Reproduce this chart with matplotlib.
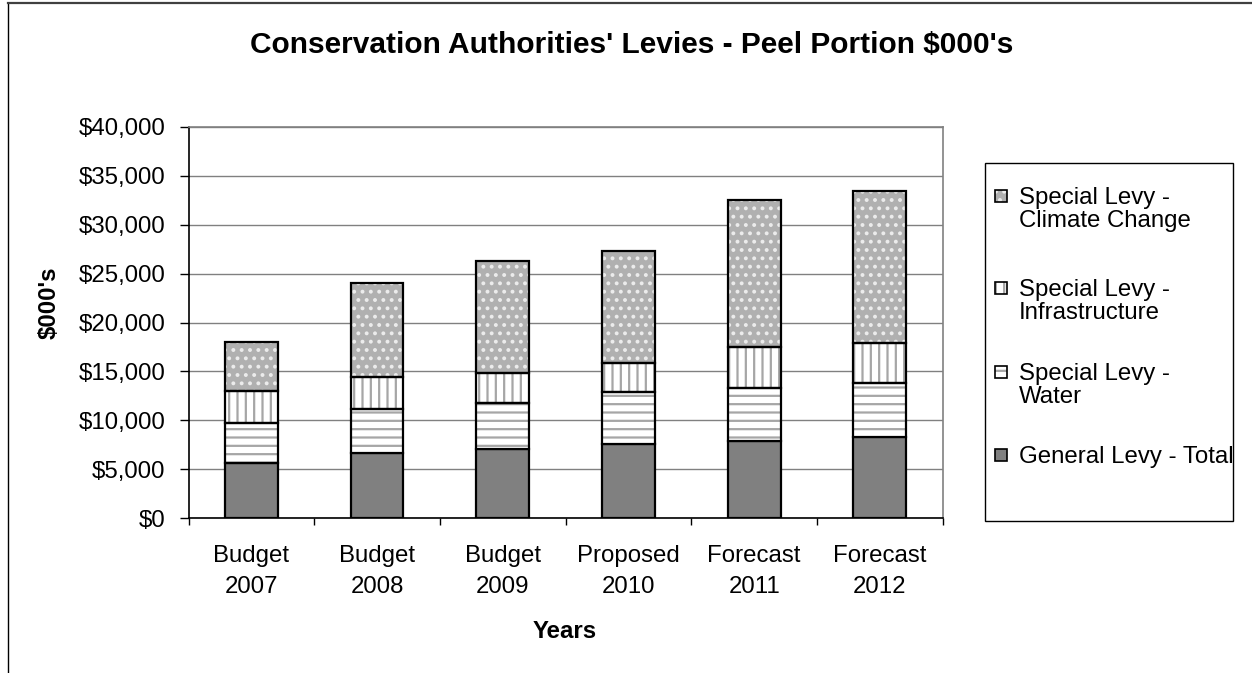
import matplotlib
matplotlib.use("Agg")
import matplotlib.pyplot as plt
from matplotlib.patches import Rectangle
from matplotlib.lines import Line2D
from matplotlib.ticker import FuncFormatter, FixedLocator
import numpy as np

plt.rcParams['font.family'] = ['Liberation Sans', 'DejaVu Sans']
plt.rcParams['hatch.linewidth'] = 1.6

categories = ["Budget\n2007", "Budget\n2008", "Budget\n2009", "Proposed\n2010", "Forecast\n2011", "Forecast\n2012"]
general_levy = [5680, 6700, 7110, 7560, 7930, 8330]
water_levy = [4020, 4500, 4700, 5310, 5350, 5520]
infrastructure_levy = [3300, 3260, 3060, 3020, 4250, 4090]
climate_levy = [4980, 9610, 11440, 11440, 14950, 15520]

series_labels = ["General Levy - Total", "Special Levy -\nWater",
                 "Special Levy -\nInfrastructure", "Special Levy -\nClimate Change"]
series_values = [general_levy, water_levy, infrastructure_levy, climate_levy]
styles = [
    dict(face="#808080", hatch=None, hcol=None),
    dict(face="white", hatch="--", hcol="#a6a6a6"),
    dict(face="white", hatch="||", hcol="#a6a6a6"),
    dict(face="#b0b0b0", hatch="..", hcol="#ececec"),
]

FS = 17.3
W, H = 1252, 673
fig = plt.figure(figsize=(W / 100, H / 100), dpi=100)
ax = fig.add_axes([188.5 / W, 1 - 518.3 / H, (942.7 - 188.5) / W, (518.3 - 126.7) / H])

x = np.arange(len(categories))
bw = 0.42
bottom = np.zeros(len(categories))
for vals, st in zip(series_values, styles):
    vals = np.array(vals, dtype=float)
    if st["hatch"]:
        ax.bar(x, vals, bw, bottom=bottom, color=st["face"], edgecolor=st["hcol"],
               hatch=st["hatch"], linewidth=0, zorder=3)
        ax.bar(x, vals, bw, bottom=bottom, fill=False, edgecolor="black", linewidth=1.6, zorder=4)
    else:
        ax.bar(x, vals, bw, bottom=bottom, color=st["face"], edgecolor="black", linewidth=1.6, zorder=3)
    bottom += vals

ax.set_xlim(-0.5, len(categories) - 0.5)
ax.set_ylim(0, 40000)
ax.set_yticks(np.arange(0, 40001, 5000))
ax.yaxis.set_major_formatter(FuncFormatter(lambda v, p: "${:,.0f}".format(v)))
ax.grid(axis="y", color="#808080", linewidth=1.0, zorder=0)
ax.set_axisbelow(True)

ax.set_xticks(x)
ax.set_xticklabels(categories, linespacing=1.55)
ax.xaxis.set_minor_locator(FixedLocator(np.arange(-0.5, len(categories), 1.0)))
ax.tick_params(axis="x", which="major", length=0, pad=19, labelsize=FS)
ax.tick_params(axis="x", which="minor", length=5, width=1, color="black", direction="out")
ax.tick_params(axis="y", which="major", length=6.5, width=1, color="black", pad=10, labelsize=FS)

for s in ["top", "right"]:
    ax.spines[s].set_color("#808080")
    ax.spines[s].set_linewidth(1.2)
for s in ["left", "bottom"]:
    ax.spines[s].set_color("black")
    ax.spines[s].set_linewidth(1.2)

fig.text(632 / W, 1 - 45 / H, "Conservation Authorities' Levies - Peel Portion $000's",
         ha="center", va="center", fontsize=21.5, fontweight="bold")
fig.text(565 / W, 1 - 632 / H, "Years", ha="center", va="center", fontsize=FS, fontweight="bold")
fig.text(49 / W, 1 - 303 / H, "$000's", ha="center", va="center", rotation=90,
         fontsize=FS, fontweight="bold")

# legend frame
fig.patches.append(Rectangle((985 / W, 1 - 521 / H), (1233 - 985) / W, (521 - 163) / H,
                             transform=fig.transFigure, fill=False, edgecolor="black",
                             linewidth=1.0, zorder=5))
leg_tops = [190, 282, 366, 449]
order = [3, 2, 1, 0]
for top, idx in zip(leg_tops, order):
    st = styles[idx]
    rx, ry, rw, rh = 995, top, 12, 12
    if st["hatch"]:
        fig.patches.append(Rectangle((rx / W, 1 - (ry + rh) / H), rw / W, rh / H,
                                     transform=fig.transFigure, facecolor=st["face"],
                                     edgecolor=st["hcol"], hatch=st["hatch"], linewidth=0, zorder=6))
        fig.patches.append(Rectangle((rx / W, 1 - (ry + rh) / H), rw / W, rh / H,
                                     transform=fig.transFigure, fill=False,
                                     edgecolor="black", linewidth=1.2, zorder=7))
    else:
        fig.patches.append(Rectangle((rx / W, 1 - (ry + rh) / H), rw / W, rh / H,
                                     transform=fig.transFigure, facecolor=st["face"],
                                     edgecolor="black", linewidth=1.2, zorder=6))
    fig.text(1019 / W, 1 - (top - 3) / H, series_labels[idx], ha="left", va="top",
             fontsize=FS, linespacing=1.05)

# chart area border (left and top)
fig.add_artist(Line2D([8 / W, 8 / W], [0, 1 - 3 / H], transform=fig.transFigure, color="black", linewidth=1.0))
fig.add_artist(Line2D([8 / W, 1], [1 - 3 / H, 1 - 3 / H], transform=fig.transFigure, color="#404040", linewidth=1.6))

fig.savefig("out.png", dpi=100)
